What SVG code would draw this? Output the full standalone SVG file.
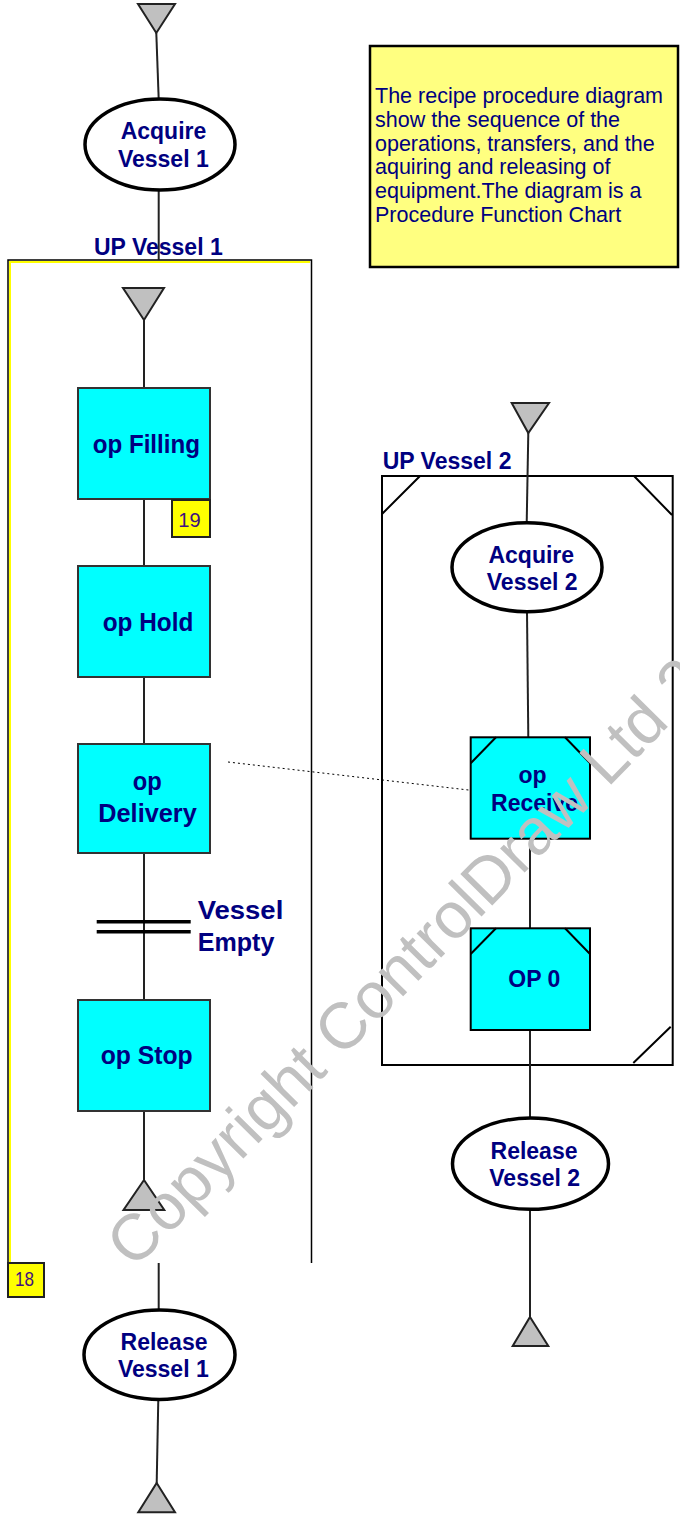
<svg xmlns="http://www.w3.org/2000/svg" width="680" height="1519" viewBox="0 0 680 1519">
<style>
.bg{fill:#ffffff}
.lbl{font-family:"Liberation Sans",Arial,sans-serif;font-weight:bold;font-size:23px;fill:#000080}
.lblc{font-family:"Liberation Sans",Arial,sans-serif;font-weight:bold;font-size:26px;fill:#000080}
.note{font-family:"Liberation Sans",Arial,sans-serif;font-size:21.5px;fill:#000080}
.tagt{font-family:"Liberation Sans",Arial,sans-serif;font-size:21px;fill:#401080}
.ell{fill:#ffffff;stroke:#000000;stroke-width:3.5}
.op{fill:#00ffff;stroke:#333333;stroke-width:2}
.op2{fill:#00ffff;stroke:#000000;stroke-width:2}
.tri{fill:#c0c0c0;stroke:#222222;stroke-width:2;stroke-linejoin:miter}
.tag{fill:#ffff00;stroke:#222222;stroke-width:2}
.conn{stroke:#222222;stroke-width:2;fill:none}
.bev{stroke:#000000;stroke-width:2;fill:none}
.wm{font-family:"Liberation Sans",Arial,sans-serif;font-size:65px;fill:#c0c0c0}
</style>
<rect class="bg" x="0" y="0" width="680" height="1519"/>

<g id="note">
<rect x="370" y="46" width="308" height="221" fill="#ffff80" stroke="#000000" stroke-width="2.5"/>
<text class="note" x="375" y="103.3">The recipe procedure diagram</text>
<text class="note" x="375" y="127">show the sequence of the</text>
<text class="note" x="375" y="150.7">operations, transfers, and the</text>
<text class="note" x="375" y="174.3">aquiring and releasing of</text>
<text class="note" x="375" y="198">equipment.The diagram is a</text>
<text class="note" x="375" y="221.7">Procedure Function Chart</text>
</g>

<g id="up-vessel-1">
<path d="M8,1263 V260 H311.5 V1263" fill="none" stroke="#000000" stroke-width="1.5"/>
<path d="M10,1263 V262 H310" fill="none" stroke="#ffff00" stroke-width="2"/>
<text class="lbl" x="94" y="255">UP Vessel 1</text>
</g>

<g id="up-vessel-2">
<rect x="382" y="476" width="290.7" height="589" fill="none" stroke="#000000" stroke-width="2"/>
<path class="bev" d="M420,476 L382,514 M634,476 L672,515 M633.3,1063 L670.7,1026.7"/>
<text class="lbl" x="382.7" y="469">UP Vessel 2</text>
</g>

<g id="connectors">
<line class="conn" x1="156.3" y1="33" x2="158.7" y2="99"/>
<line class="conn" x1="158.7" y1="190" x2="158.7" y2="260"/>
<line class="conn" x1="144" y1="320" x2="144" y2="388"/>
<line class="conn" x1="144" y1="499" x2="144" y2="566"/>
<line class="conn" x1="144" y1="677" x2="144" y2="744"/>
<line class="conn" x1="144" y1="853" x2="144" y2="1000"/>
<line class="conn" x1="144" y1="1111" x2="144" y2="1180"/>
<line class="conn" x1="158.7" y1="1263" x2="158.7" y2="1310"/>
<line class="conn" x1="158.3" y1="1399" x2="156.7" y2="1483"/>
<line class="conn" x1="528.3" y1="433" x2="526.7" y2="523"/>
<line class="conn" x1="527" y1="612" x2="528.3" y2="737"/>
<line class="conn" x1="530" y1="839" x2="530" y2="928"/>
<line class="conn" x1="530" y1="1030" x2="530" y2="1118"/>
<line class="conn" x1="530" y1="1209" x2="530" y2="1317"/>
<line x1="228" y1="762" x2="477" y2="791" stroke="#000000" stroke-width="1" stroke-dasharray="2,3"/>
</g>

<g id="start-1">
<polygon class="tri" points="138,4 175,4 156.3,33"/>
</g>

<g id="acquire-vessel-1">
<ellipse class="ell" cx="160" cy="144.5" rx="75" ry="45.5"/>
<text class="lbl" x="163.5" y="139.3" text-anchor="middle">Acquire</text>
<text class="lbl" x="163.3" y="166.7" text-anchor="middle">Vessel 1</text>
</g>

<g id="start-up1">
<polygon class="tri" points="123,288 164,288 144,320"/>
</g>

<g id="op-filling">
<rect class="op" x="78" y="388" width="132" height="111"/>
<text class="lblc" x="92.7" y="452.5" textLength="107.3" lengthAdjust="spacingAndGlyphs">op Filling</text>
</g>

<g id="tag-19">
<rect class="tag" x="172" y="500" width="38" height="37"/>
<text class="tagt" x="178.3" y="526.7" textLength="22.4" lengthAdjust="spacingAndGlyphs">19</text>
</g>

<g id="op-hold">
<rect class="op" x="78" y="566" width="132" height="111"/>
<text class="lblc" x="102.7" y="630.7" textLength="90.6" lengthAdjust="spacingAndGlyphs">op Hold</text>
</g>

<g id="op-delivery">
<rect class="op" x="78" y="744" width="132" height="109"/>
<text class="lblc" x="132.7" y="790" textLength="29" lengthAdjust="spacingAndGlyphs">op</text>
<text class="lblc" x="98.3" y="821.7" textLength="98.4" lengthAdjust="spacingAndGlyphs">Delivery</text>
</g>

<g id="transition-vessel-empty">
<line x1="96.7" y1="921.7" x2="190.7" y2="921.7" stroke="#000000" stroke-width="3.5"/>
<line x1="96.7" y1="931.7" x2="190.7" y2="931.7" stroke="#000000" stroke-width="3.5"/>
<text class="lblc" x="197.7" y="919.3" textLength="85.6" lengthAdjust="spacingAndGlyphs">Vessel</text>
<text class="lblc" x="197.7" y="950.7" textLength="76.7" lengthAdjust="spacingAndGlyphs">Empty</text>
</g>

<g id="op-stop">
<rect class="op" x="78" y="1000" width="132" height="111"/>
<text class="lblc" x="100.7" y="1064" textLength="92" lengthAdjust="spacingAndGlyphs">op Stop</text>
</g>

<g id="end-up1">
<polygon class="tri" points="144,1180 164.3,1210 123.5,1210"/>
</g>

<g id="tag-18">
<rect class="tag" x="8" y="1263" width="36" height="34"/>
<text class="tagt" x="15" y="1286" textLength="19" lengthAdjust="spacingAndGlyphs">18</text>
</g>

<g id="release-vessel-1">
<ellipse class="ell" cx="159.5" cy="1354.7" rx="75.5" ry="44.7"/>
<text class="lbl" x="164" y="1350" text-anchor="middle">Release</text>
<text class="lbl" x="163.3" y="1377.3" text-anchor="middle">Vessel 1</text>
</g>

<g id="end-1">
<polygon class="tri" points="156.7,1483 175,1512.3 138.3,1512.3"/>
</g>

<g id="start-2">
<polygon class="tri" points="511.7,403 549,403 528.3,433"/>
</g>

<g id="acquire-vessel-2">
<ellipse class="ell" cx="527" cy="567.2" rx="75" ry="44.5"/>
<text class="lbl" x="531.3" y="562.7" text-anchor="middle">Acquire</text>
<text class="lbl" x="532.2" y="590" text-anchor="middle">Vessel 2</text>
</g>

<g id="op-receive">
<rect class="op2" x="470.7" y="737.3" width="119.3" height="101.4"/>
<path class="bev" d="M496,737.3 L470.7,763.3 M565,737.3 L590,763"/>
<text class="lbl" x="532.5" y="783.3" text-anchor="middle">op</text>
<text class="lbl" x="534.5" y="810.7" text-anchor="middle">Receive</text>
</g>

<g id="op-0">
<rect class="op2" x="470.7" y="928.3" width="119.3" height="101.7"/>
<path class="bev" d="M496,928.3 L470.7,954 M565,928.3 L590,954"/>
<text class="lbl" x="534.3" y="987.3" text-anchor="middle">OP 0</text>
</g>

<g id="release-vessel-2">
<ellipse class="ell" cx="530.5" cy="1163.7" rx="78" ry="45.6"/>
<text class="lbl" x="534" y="1159.3" text-anchor="middle">Release</text>
<text class="lbl" x="534.7" y="1186" text-anchor="middle">Vessel 2</text>
</g>

<g id="end-2">
<polygon class="tri" points="530,1317 548.3,1346 512.7,1346"/>
</g>

<g id="watermark">
<text class="wm" transform="translate(134,1270) rotate(-45.5)">Copyright ControlDraw Ltd 2</text>
</g>
</svg>
